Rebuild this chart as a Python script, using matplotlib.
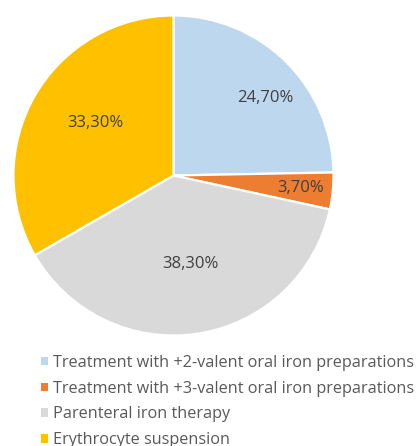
import matplotlib
matplotlib.use("Agg")
import matplotlib.pyplot as plt
from matplotlib.patches import Patch
import numpy as np

categories = [
    "Treatment with +2-valent oral iron preparations",
    "Treatment with +3-valent oral iron preparations",
    "Parenteral iron therapy",
    "Erythrocyte suspension",
]
values = [24.7, 3.7, 38.3, 33.3]
labels = ["24,70%", "3,70%", "38,30%", "33,30%"]
colors = ["#BDD7EE", "#ED7D31", "#D9D9D9", "#FFC000"]

# label placement (radial fraction, angle offset in degrees)
label_r = [0.75, 0.80, 0.56, 0.59]
label_dang = [-5.5, 0.0, 2.0, -4.0]

plt.rcParams['font.family'] = ['Open Sans', 'DejaVu Sans']

W, H = 416, 446
fig = plt.figure(figsize=(W / 100, H / 100), dpi=100)
cx, cy, R = 173.5, 175.5, 160
ax = fig.add_axes([(cx - R) / W, (H - cy - R) / H, 2 * R / W, 2 * R / H])

wedges, _ = ax.pie(values, colors=colors, startangle=90, counterclock=False,
                   wedgeprops=dict(edgecolor="white", linewidth=1.6), radius=1.0)
for w, lab, rf, da in zip(wedges, labels, label_r, label_dang):
    ang = np.deg2rad((w.theta1 + w.theta2) / 2 + da)
    ax.text(rf * np.cos(ang), rf * np.sin(ang), lab, ha="center", va="center",
            fontsize=12, color="#404040")
ax.set_xlim(-1, 1)
ax.set_ylim(-1, 1)
ax.set_aspect("equal")
ax.axis("off")

handles = [Patch(facecolor=c, edgecolor="none") for c in colors]
leg = fig.legend(handles, categories, loc="upper left",
                 bbox_to_anchor=(41 / W, 1 - 355 / H), frameon=False,
                 fontsize=11.7, labelcolor="#595959", handlelength=0.43,
                 handleheight=0.43, handletextpad=0.3, labelspacing=0.6,
                 borderaxespad=0, borderpad=0)

fig.savefig("out.png", dpi=100)
